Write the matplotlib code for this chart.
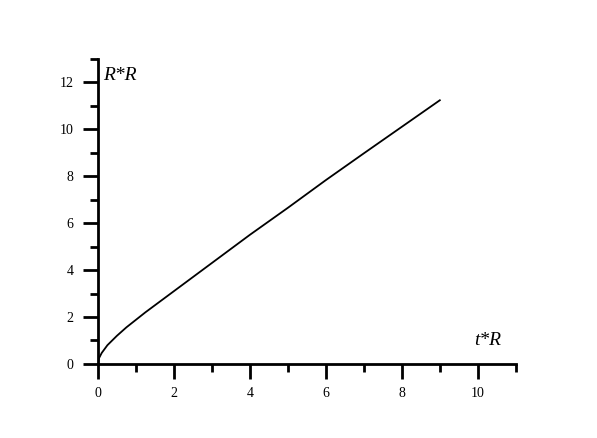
import numpy as np
import matplotlib.pyplot as plt
from matplotlib.ticker import MultipleLocator

# curve
t_r = [0, 0.03, 0.1, 0.25, 0.5, 0.75, 1.0, 1.25, 1.5, 1.75, 2.0, 2.5, 3.0,
       4.0, 5.0, 6.0, 7.0, 8.0, 9.0]
r_r = [0, 0.25, 0.47, 0.8, 1.2, 1.56, 1.88, 2.2, 2.5, 2.8, 3.1, 3.7, 4.3,
       5.5, 6.65, 7.83, 8.97, 10.1, 11.23]

x_ticks = [0, 2, 4, 6, 8, 10]
y_ticks = [0, 2, 4, 6, 8, 10, 12]

plt.rcParams['font.family'] = ['Liberation Serif', 'DejaVu Serif']

fig = plt.figure(figsize=(5.97, 4.38), dpi=100)
ax = fig.add_axes([0.164, 0.169, 0.700, 0.697])

ax.plot(t_r, r_r, color='black', lw=1.3)

ax.set_xlim(0, 11)
ax.set_ylim(0, 13)
ax.set_xticks(x_ticks)
ax.set_yticks(y_ticks)
ax.xaxis.set_minor_locator(MultipleLocator(1))
ax.yaxis.set_minor_locator(MultipleLocator(1))

for s in ['top', 'right']:
    ax.spines[s].set_visible(False)
for s in ['left', 'bottom']:
    ax.spines[s].set_linewidth(2.0)

ax.tick_params(which='major', direction='out', length=10.5, width=2.0, labelsize=10)
ax.tick_params(which='minor', direction='out', length=5.5, width=2.0)
ax.tick_params(axis='x', which='major', pad=6)
ax.tick_params(axis='y', which='major', pad=7)

ax.text(0.15, 12.3, 'R*R', fontsize=14, style='italic', ha='left', va='center')
ax.text(9.9, 1.0, 't*R', fontsize=14, style='italic', ha='left', va='center')

plt.savefig('out.png', dpi=100)
